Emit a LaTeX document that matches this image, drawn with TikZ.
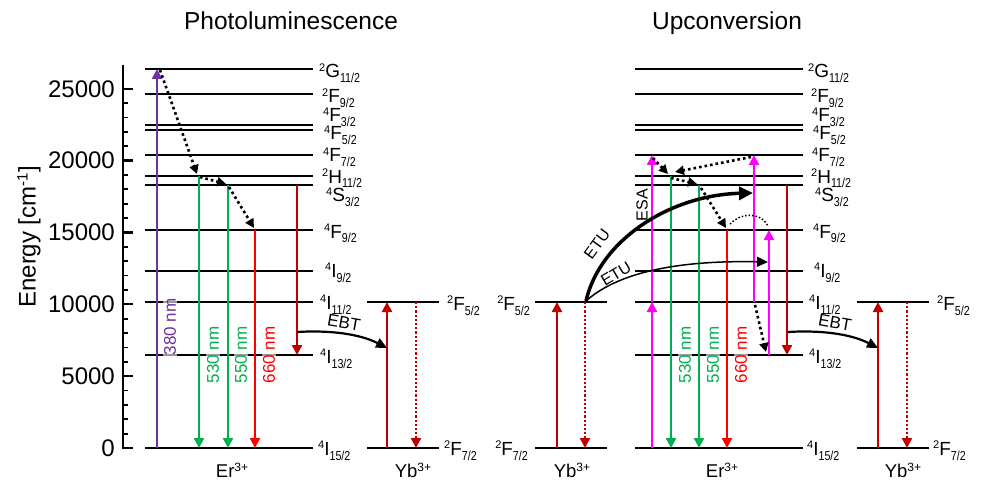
\documentclass[tikz,border=0pt]{standalone}
\usepackage{fontspec}
\setmainfont{Liberation Sans}
\usetikzlibrary{arrows.meta}

\definecolor{pviolet}{HTML}{7030A0}
\definecolor{pgreen}{HTML}{00B050}
\definecolor{pred}{HTML}{FF0000}
\definecolor{pdred}{HTML}{C00000}
\definecolor{pmag}{HTML}{FF00FF}

\newcommand{\fs}[1]{\fontsize{#1}{#1}\selectfont}
% spectroscopic term: ^{mult}L_{J}
\newcommand{\term}[3]{\raisebox{6.5pt}{\fs{11}#1}#2\raisebox{-5pt}{\scalebox{0.82}[1]{\fs{13}#3}}}
\newcommand{\ionlbl}[2]{#1\raisebox{6pt}{\fs{12}#2}}

\begin{document}
\begin{tikzpicture}[x=1pt,y=1pt,
  level/.style={line width=2.7pt},
  trans/.style={line width=2.3pt,-{Triangle[width=10pt,length=10pt]}},
  relax/.style={line width=2.6pt,dash pattern=on 2.6pt off 3pt,-{Triangle[width=9pt,length=9pt]}},
  backdot/.style={line width=2.2pt,dash pattern=on 2.2pt off 2pt,pdred,-{Triangle[width=10pt,length=10pt]}},
  termlbl/.style={anchor=base west,inner sep=0pt,font=\fs{19}},
  termlblr/.style={anchor=base east,inner sep=0pt,font=\fs{19}},
  ionname/.style={anchor=base,inner sep=0pt,font=\fs{18.5}},
  wl/.style={rotate=90,inner sep=0.5pt,fill=white,fill opacity=0.6,text opacity=1,font=\fs{17}},
  proc/.style={inner sep=0pt,font=\fs{16}},
  ticklbl/.style={anchor=east,inner sep=0pt,font=\fs{24}},
]
\fill[white] (0,0) rectangle (986,-484);
\useasboundingbox (0,0) rectangle (986,-484);

% ---------- energy levels (heights) ----------
\coordinate (LG)  at (0,-69);   % 2G11/2
\coordinate (LFa) at (0,-94);   % 2F9/2
\coordinate (LFb) at (0,-125);  % 4F3/2
\coordinate (LFc) at (0,-130);  % 4F5/2
\coordinate (LFd) at (0,-155);  % 4F7/2
\coordinate (LH)  at (0,-176);  % 2H11/2
\coordinate (LS)  at (0,-185);  % 4S3/2
\coordinate (LFe) at (0,-230);  % 4F9/2
\coordinate (LIa) at (0,-271);  % 4I9/2
\coordinate (LIb) at (0,-302);  % 4I11/2
\coordinate (LIc) at (0,-355);  % 4I13/2
\coordinate (LId) at (0,-448);  % 4I15/2

% ---------- horizontal extents of the level ladders ----------
\coordinate (erPA) at (145,0);  \coordinate (erPB) at (313,0);
\coordinate (ybPA) at (367,0);  \coordinate (ybPB) at (439,0);
\coordinate (ybUA) at (535,0);  \coordinate (ybUB) at (607,0);
\coordinate (erUA) at (635,0);  \coordinate (erUB) at (803,0);
\coordinate (ybRA) at (857,0);  \coordinate (ybRB) at (929,0);

\foreach \l in {LG,LFa,LFb,LFc,LFd,LH,LS,LFe,LIa,LIb,LIc,LId}{
  \draw[level] (erPA |- \l) -- (erPB |- \l);
  \draw[level] (erUA |- \l) -- (erUB |- \l);
}
\foreach \l in {LIb,LId}{
  \draw[level] (ybPA |- \l) -- (ybPB |- \l);
  \draw[level] (ybUA |- \l) -- (ybUB |- \l);
  \draw[level] (ybRA |- \l) -- (ybRB |- \l);
}

% ---------- energy axis ----------
\coordinate (axTop) at (123,-65);
\coordinate (axBot) at (123,-448);
\coordinate (axEnd) at (133,-448);
\draw[line width=2.2pt] (axTop) -- (axBot) -- (axEnd);
\foreach \e in {5,10,15,20,25}
  \draw[line width=2.2pt] (123,-448+14.37*\e) -- ++(10,0);
\foreach \e in {1,2,3,4,6,7,8,9,11,12,13,14,16,17,18,19,21,22,23,24}
  \draw[line width=1.8pt] (123,-448+14.37*\e) -- ++(5,0);
\foreach \e/\t in {0/0,5/5000,10/10000,15/15000,20/20000,25/25000}
  \node[ticklbl] (tk\e) at (115,-448+14.37*\e) {\t};
\node[rotate=90,font=\fs{24},inner sep=0pt] (ylab) at (29,-237)
  {Energy [cm\raisebox{8pt}{\fs{15}-1}]};

% ---------- titles ----------
\node[anchor=base,font=\fs{24.5},inner sep=0pt] (tPL) at (291,-30) {Photoluminescence};
\node[anchor=base,font=\fs{24.5},inner sep=0pt] (tUC) at (727,-30) {Upconversion};

% ---------- term labels ----------
\foreach \x/\y/\m/\L/\j [count=\i] in {
  319/78/2/G/11\slash 2, 322/103/2/F/9\slash 2, 323/122/4/F/3\slash 2,
  324/140/4/F/5\slash 2, 323/162/4/F/7\slash 2, 322/183/2/H/11\slash 2,
  326/202/4/S/3\slash 2, 324/238/4/F/9\slash 2, 325/277/4/I/9\slash 2,
  320/309/4/I/11\slash 2, 320/363/4/I/13\slash 2, 318/455/4/I/15\slash 2}{
  \node[termlbl] (tp\i) at (\x,-\y) {\term{\m}{\L}{\j}};
  \node[termlbl] (tu\i) at (\x+489,-\y) {\term{\m}{\L}{\j}};
}
\node[termlbl]  (ya1) at (447,-310) {\term{2}{F}{5/2}};
\node[termlbl]  (ya2) at (444,-455) {\term{2}{F}{7/2}};
\node[termlblr] (yb1) at (530,-310) {\term{2}{F}{5/2}};
\node[termlblr] (yb2) at (528,-455) {\term{2}{F}{7/2}};
\node[termlbl]  (yc1) at (937,-310) {\term{2}{F}{5/2}};
\node[termlbl]  (yc2) at (933,-455) {\term{2}{F}{7/2}};

% ---------- ion names ----------
\node[ionname] (erP) at (232,-477) {\ionlbl{Er}{3+}};
\node[ionname] (ybP) at (413,-477) {\ionlbl{Yb}{3+}};
\node[ionname] (ybU) at (572,-477) {\ionlbl{Yb}{3+}};
\node[ionname] (erU) at (722,-477) {\ionlbl{Er}{3+}};
\node[ionname] (ybR) at (903,-477) {\ionlbl{Yb}{3+}};

% ---------- transition columns ----------
\coordinate (cV)   at (157,0);
\coordinate (cG1)  at (199,0);
\coordinate (cG2)  at (228,0);
\coordinate (cR1)  at (255,0);
\coordinate (cD1)  at (297,0);
\coordinate (cYu1) at (387,0);
\coordinate (cYd1) at (416,0);
\coordinate (cYu2) at (557,0);
\coordinate (cYd2) at (585,0);
\coordinate (cM1)  at (652,0);
\coordinate (cG3)  at (671,0);
\coordinate (cG4)  at (699,0);
\coordinate (cR2)  at (727,0);
\coordinate (cM2)  at (754,0);
\coordinate (cM3)  at (769,0);
\coordinate (cD2)  at (787,0);
\coordinate (cYu3) at (878,0);
\coordinate (cYd3) at (907,0);

% ---------- photoluminescence ----------
\draw[trans,pviolet] (cV |- LId) -- (cV |- LG);
\draw[trans,pgreen] (cG1 |- LH) -- (cG1 |- LId);
\draw[trans,pgreen] (cG2 |- LS) -- (cG2 |- LId);
\draw[trans,pred]   (cR1 |- LFe) -- (cR1 |- LId);
\draw[trans,pdred]  (cD1 |- LS) -- (cD1 |- LIc);
\draw[trans,pdred]  (cYu1 |- LId) -- (cYu1 |- LIb);
\draw[backdot]      (cYd1 |- LIb) -- (cYd1 |- LId);

\node[wl,text=pviolet] (w380) at (170,-327) {380 nm};
\node[wl,text=pgreen]  (w530a) at (213,-355) {530 nm};
\node[wl,text=pgreen]  (w550a) at (241,-355) {550 nm};
\node[wl,text=pred]    (w660a) at (269,-355) {660 nm};

\coordinate (r1a) at (160,-70);  \coordinate (r1b) at (197,-174);
\coordinate (r2a) at (200,-177); \coordinate (r2b) at (226,-184);
\coordinate (r3a) at (229,-187); \coordinate (r3b) at (254,-228);
\draw[relax] (r1a) -- (r1b);
\draw[relax] (r2a) -- (r2b);
\draw[relax] (r3a) -- (r3b);

\coordinate (ebtPa) at (297,-332);
\coordinate (ebtPb) at (387,-348);
\draw[line width=2.2pt,-{Triangle[width=10pt,length=11pt]}]
  (ebtPa) .. controls (330,-330) and (360,-334) .. (ebtPb);
\node[font=\fs{17},inner sep=0pt,rotate=-10] (ebtPl) at (344,-323) {EBT};

% ---------- upconversion ----------
\draw[trans,pdred]  (cYu2 |- LId) -- (cYu2 |- LIb);
\draw[backdot]      (cYd2 |- LIb) -- (cYd2 |- LId);

\draw[trans,pmag]   (cM1 |- LId) -- (cM1 |- LIb);
\draw[trans,pmag]   (cM1 |- LIb) -- (cM1 |- LFd);
\draw[trans,pgreen] (cG3 |- LH) -- (cG3 |- LId);
\draw[trans,pgreen] (cG4 |- LS) -- (cG4 |- LId);
\draw[trans,pred]   (cR2 |- LFe) -- (cR2 |- LId);
\draw[trans,pmag]   (cM2 |- LIb) -- (cM2 |- LFd);
\draw[trans,pmag]   (cM3 |- LIc) -- (cM3 |- LFe);
\draw[trans,pdred]  (cD2 |- LS) -- (cD2 |- LIc);
\draw[trans,pdred]  (cYu3 |- LId) -- (cYu3 |- LIb);
\draw[backdot]      (cYd3 |- LIb) -- (cYd3 |- LId);

\node[wl,text=pgreen] (w530b) at (685,-355) {530 nm};
\node[wl,text=pgreen] (w550b) at (713,-355) {550 nm};
\node[wl,text=pred]   (w660b) at (741,-355) {660 nm};

\coordinate (u1a) at (653,-158); \coordinate (u1b) at (668,-174);
\coordinate (u2a) at (671,-178); \coordinate (u2b) at (697,-184);
\coordinate (u3a) at (701,-188); \coordinate (u3b) at (726,-228);
\coordinate (u4a) at (751,-157); \coordinate (u4b) at (675,-172);
\coordinate (u5a) at (755,-305); \coordinate (u5b) at (766,-352);
\draw[relax] (u1a) -- (u1b);
\draw[relax] (u2a) -- (u2b);
\draw[relax] (u3a) -- (u3b);
\draw[relax] (u4a) -- (u4b);
\draw[relax] (u5a) -- (u5b);
\coordinate (arcA) at (730,-224);
\coordinate (arcB) at (768,-226);
\draw[line width=1.5pt,dash pattern=on 1.5pt off 2pt]
  (arcA) .. controls (740,-213) and (760,-211) .. (arcB);

\coordinate (etuS)  at (586,-301);
\coordinate (etuE1) at (753,-193);
\coordinate (etuE2) at (768,-262);
\draw[line width=3.5pt,-{Triangle[width=13pt,length=14pt]}]
  (etuS) .. controls (600,-240) and (670,-195) .. (etuE1);
\draw[line width=1.5pt,-{Triangle[width=10pt,length=11pt]}]
  (etuS) .. controls (615,-275) and (670,-260) .. (etuE2);
\node[proc,rotate=54] (etuL1) at (597,-244) {ETU};
\node[proc,rotate=31] (etuL2) at (616,-274) {ETU};
\node[proc,rotate=90] (esaL)  at (642,-205) {ESA};

\coordinate (ebtUa) at (788,-332);
\coordinate (ebtUb) at (878,-348);
\draw[line width=2.2pt,-{Triangle[width=10pt,length=11pt]}]
  (ebtUa) .. controls (821,-330) and (851,-334) .. (ebtUb);
\node[font=\fs{17},inner sep=0pt,rotate=-10] (ebtUl) at (835,-323) {EBT};
\end{tikzpicture}
\end{document}
